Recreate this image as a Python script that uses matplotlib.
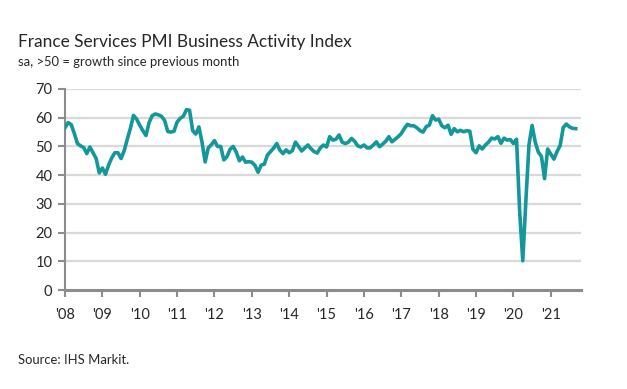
"""France services PMI chart, redrawn."""

import numpy as np
import matplotlib
matplotlib.use("Agg")
import matplotlib.pyplot as plt

# monthly index values, Jan-Dec of each year
pmi_2008 = [56.5, 58.3, 57.6, 54.5, 51.0, 50.2, 49.6, 47.5, 49.8, 47.8, 45.8, 40.8]
pmi_2009 = [42.5, 40.3, 43.5, 46.0, 47.8, 47.8, 45.8, 48.5, 52.5, 56.3, 60.8, 59.5]
pmi_2010 = [57.4, 55.5, 53.8, 58.3, 60.7, 61.3, 61.0, 60.5, 59.0, 55.2, 55.0, 55.3]
pmi_2011 = [58.5, 59.8, 60.5, 62.8, 62.6, 55.5, 54.3, 56.8, 51.5, 44.6, 49.5, 50.6]
pmi_2012 = [52.0, 50.0, 50.0, 45.3, 46.4, 49.0, 50.0, 48.0, 45.0, 46.3, 44.5, 44.7]
pmi_2013 = [44.5, 43.4, 41.0, 43.5, 43.8, 47.0, 48.2, 49.4, 51.0, 48.7, 47.5, 48.8]
pmi_2014 = [47.8, 48.5, 51.5, 50.0, 48.4, 49.5, 50.5, 49.2, 48.2, 47.7, 49.5, 50.5]
pmi_2015 = [49.8, 53.4, 52.2, 52.5, 54.0, 51.5, 51.0, 51.5, 52.8, 51.8, 50.2, 49.8]
pmi_2016 = [50.5, 49.5, 49.5, 50.5, 51.6, 49.9, 50.8, 51.8, 53.4, 51.6, 52.5, 53.4]
pmi_2017 = [54.5, 56.3, 57.7, 57.2, 57.2, 56.5, 55.5, 55.0, 56.9, 57.4, 60.7, 59.2]
pmi_2018 = [59.5, 57.2, 56.5, 57.4, 54.2, 56.2, 55.1, 55.6, 55.1, 55.5, 55.3, 49.0]
pmi_2019 = [47.8, 50.2, 49.1, 50.5, 51.5, 52.9, 52.6, 53.4, 51.1, 52.9, 52.2, 52.4]
pmi_2020 = [51.0, 52.5, 27.4, 10.2, 31.1, 50.7, 57.3, 51.5, 48.0, 46.5, 38.8, 49.1]
pmi_2021 = [47.3, 45.6, 48.2, 50.3, 56.6, 57.8, 56.8, 56.3, 56.2]

years = ["'08", "'09", "'10", "'11", "'12", "'13", "'14",
         "'15", "'16", "'17", "'18", "'19", "'20", "'21"]

LINE = "#14979a"
GRID = "#d9d9d9"
AXIS = "#8c8c8c"
TEXT = "#262626"

plt.rcParams["font.family"] = ["Lato", "DejaVu Sans"]

values = (pmi_2008 + pmi_2009 + pmi_2010 + pmi_2011 + pmi_2012 + pmi_2013
          + pmi_2014 + pmi_2015 + pmi_2016 + pmi_2017 + pmi_2018 + pmi_2019
          + pmi_2020 + pmi_2021)
months = np.arange(len(values))

fig = plt.figure(figsize=(6.27, 3.89), dpi=100, facecolor="white")
ax = fig.add_axes([65 / 627, 1 - 290 / 389, 516 / 627, 201 / 389])

ax.plot(months, values, color=LINE, linewidth=2.6, solid_joinstyle="round", zorder=3)

ax.set_ylim(0, 70)
ax.set_xlim(0, 165.7)
ax.set_yticks(range(0, 71, 10))
ax.set_xticks(np.arange(len(years)) * 12)
ax.set_xticklabels(years)

for v in range(10, 71, 10):
    ax.axhline(v, color=GRID, linewidth=1.6, zorder=1)

for side in ("top", "right"):
    ax.spines[side].set_visible(False)
ax.spines["left"].set_color(AXIS)
ax.spines["left"].set_linewidth(1.5)
ax.spines["bottom"].set_color(AXIS)
ax.spines["bottom"].set_linewidth(2.2)
ax.spines["bottom"].set_zorder(4)

ax.tick_params(axis="both", colors=AXIS, labelcolor=TEXT, labelsize=10.5,
               length=5, width=1.5, direction="out")
ax.tick_params(axis="x", pad=8)
ax.tick_params(axis="y", pad=4)

fig.text(18 / 627, 1 - 42 / 389, "France Services PMI Business Activity Index",
         fontsize=12.4, color=TEXT, ha="left", va="center")
fig.text(18 / 627, 1 - 62 / 389, "sa, >50 = growth since previous month",
         fontsize=9.4, color=TEXT, ha="left", va="center")
fig.text(18 / 627, 1 - 360 / 389, "Source: IHS Markit.",
         fontsize=9.4, color=TEXT, ha="left", va="center")

fig.savefig("out.png", dpi=100, facecolor="white")
